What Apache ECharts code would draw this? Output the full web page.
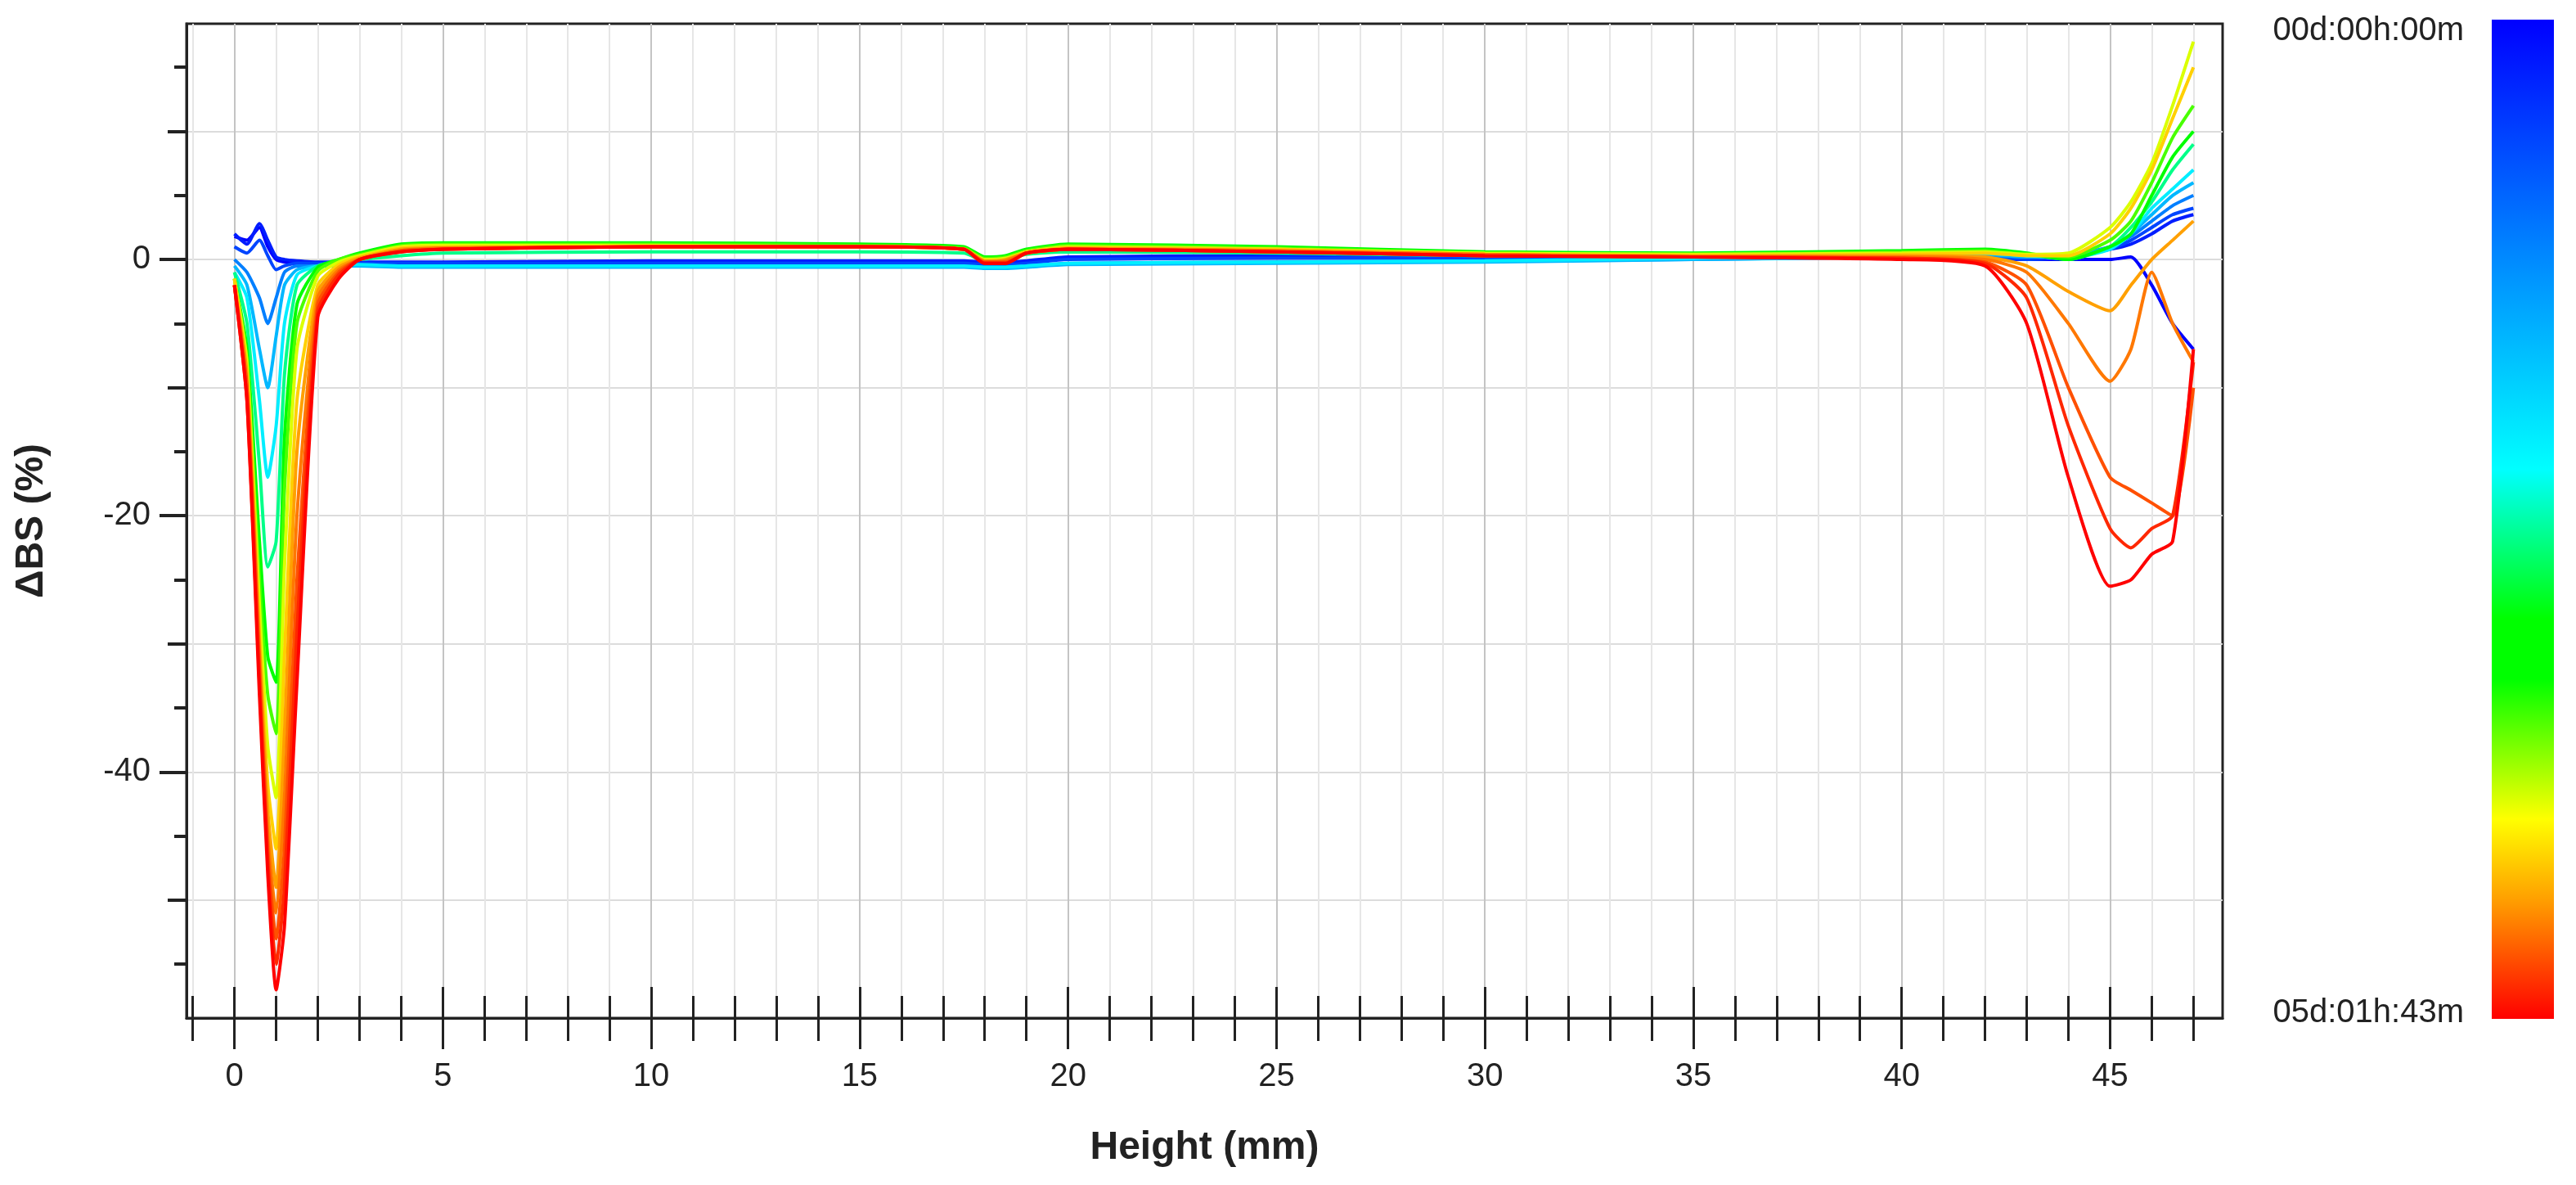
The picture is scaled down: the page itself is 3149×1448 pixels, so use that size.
<!DOCTYPE html>
<html>
<head>
<meta charset="utf-8">
<style>
  html, body { margin: 0; padding: 0; background: #fff; }
  #chart { width: 3149px; height: 1448px; }
</style>
<script src="https://cdn.jsdelivr.net/npm/echarts@6/dist/echarts.min.js"></script>
</head>
<body>
<div id="chart"></div>
<script>
// 高度 (mm)
var heights = [0, 0.3, 0.6, 0.8, 1.0, 1.2, 1.5, 2.0, 2.5, 3, 4, 5, 10, 15, 17.5, 18, 18.5, 19, 20, 25, 30, 35, 40, 42, 43, 44, 45, 45.5, 46, 46.5, 47];
// ΔBS 曲线，按时间先后排列
var profiles = [
  [1.8, 1.5, 2.5, 1.0, 0, -0.2, -0.3, -0.3, -0.3, -0.3, -0.3, -0.3, -0.2, -0.2, -0.2, -0.3, -0.3, -0.2, 0.1, 0.2, 0.1, 0.1, 0.2, 0.1, 0, 0, 0, 0.2, -2, -5, -7],
  [2.0, 1.2, 2.8, 1.5, 0.2, 0, -0.1, -0.2, -0.2, -0.2, -0.2, -0.2, -0.1, -0.1, -0.1, -0.2, -0.2, -0.1, 0.2, 0.3, 0.2, 0.2, 0.3, 0.3, 0.1, 0.3, 0.8, 1.2, 2, 3, 3.5],
  [1.0, 0.5, 1.5, 0.3, -0.8, -0.5, -0.3, -0.3, -0.3, -0.3, -0.3, -0.3, -0.3, -0.3, -0.3, -0.4, -0.4, -0.3, 0, 0.1, 0.1, 0.1, 0.2, 0.2, 0, 0.2, 0.8, 1.5, 2.5, 3.5, 4],
  [0, -1, -3, -5, -3, -1, -0.5, -0.5, -0.5, -0.5, -0.5, -0.5, -0.5, -0.5, -0.5, -0.6, -0.6, -0.5, -0.3, -0.2, -0.1, 0, 0.2, 0.3, 0.2, 0.3, 1, 1.8, 3, 4.2, 5],
  [-0.5, -2, -7, -10, -6, -2, -0.8, -0.5, -0.5, -0.5, -0.6, -0.6, -0.6, -0.6, -0.6, -0.7, -0.7, -0.6, -0.4, -0.3, -0.2, 0, 0.2, 0.4, 0.2, 0.2, 1, 2, 3.5, 5, 6],
  [-1, -3, -11, -17, -13, -5, -1.2, -0.5, -0.4, -0.4, -0.5, -0.5, -0.5, -0.5, -0.5, -0.6, -0.6, -0.5, -0.3, -0.2, -0.1, 0.1, 0.3, 0.5, 0.3, 0.1, 0.8, 2, 4, 5.5, 7],
  [-1, -5, -16, -24, -22, -9, -2, -0.5, -0.2, 0, 0.3, 0.5, 0.6, 0.6, 0.5, -0.1, 0, 0.4, 0.6, 0.5, 0.3, 0.3, 0.5, 0.7, 0.4, 0, 1, 2.5, 4.5, 7, 9],
  [-1.5, -7, -22, -31, -33, -14, -3.5, -0.6, 0, 0.5, 1.2, 1.3, 1.3, 1.2, 1.0, 0.2, 0.3, 0.8, 1.2, 1, 0.6, 0.5, 0.7, 0.8, 0.5, 0, 1, 2, 5, 8, 10],
  [-1.5, -8, -25, -34, -37, -18, -5, -0.9, 0, 0.4, 1.1, 1.2, 1.2, 1.1, 0.9, 0.1, 0.2, 0.7, 1.1, 0.9, 0.5, 0.4, 0.6, 0.7, 0.4, 0.2, 1.5, 3, 6, 9.5, 12],
  [-1.5, -8, -27, -38, -42, -24, -7, -1.3, -0.2, 0.3, 1, 1.1, 1.1, 1, 0.8, 0, 0.1, 0.6, 1, 0.8, 0.5, 0.4, 0.5, 0.6, 0.4, 0.5, 2.5, 4.5, 7.5, 12, 17],
  [-1.5, -9, -29, -41, -46, -31, -11, -2, -0.4, 0.2, 0.9, 1, 1, 1, 0.8, -0.1, 0, 0.6, 0.9, 0.8, 0.4, 0.3, 0.4, 0.5, 0.3, 0.3, 2, 4, 7, 11, 15],
  [-2, -9, -30, -43, -49, -37, -15, -2.5, -0.6, 0.1, 0.8, 0.9, 1, 1, 0.8, -0.1, 0, 0.5, 0.9, 0.7, 0.4, 0.3, 0.3, 0.2, -0.5, -2.5, -4, -2, 0, 1.5, 3],
  [-2, -10, -31, -45, -51, -42, -20, -3, -0.8, 0, 0.7, 0.9, 1, 1, 0.8, -0.2, -0.1, 0.5, 0.8, 0.7, 0.4, 0.2, 0.2, 0, -1, -5, -9.5, -7, -1, -5, -8],
  [-2, -10, -32, -46, -53, -46, -25, -3.5, -1, 0, 0.7, 0.8, 1, 1, 0.8, -0.2, -0.2, 0.5, 0.8, 0.6, 0.3, 0.2, 0.1, -0.2, -2, -10, -17, -18, -19, -20, -10],
  [-2, -11, -33, -47, -55, -49, -29, -4, -1.2, 0, 0.6, 0.8, 1, 1, 0.8, -0.3, -0.3, 0.5, 0.8, 0.6, 0.3, 0.2, 0.1, -0.3, -3, -13, -21, -22.5, -21, -20, -8],
  [-2, -11, -34, -48, -57, -52, -33, -4.5, -1.5, 0, 0.6, 0.8, 1, 1, 0.8, -0.3, -0.3, 0.5, 0.8, 0.6, 0.3, 0.2, 0, -0.5, -5, -17, -25.5, -25, -23, -22, -7]
];
var xLabelTicks = [0, 5, 10, 15, 20, 25, 30, 35, 40, 45];
var xMinorTicks = [-1, 0, 1, 2, 3, 4, 5, 6, 7, 8, 9, 10, 11, 12, 13, 14, 15, 16, 17, 18, 19, 20, 21, 22, 23, 24, 25, 26, 27, 28, 29, 30, 31, 32, 33, 34, 35, 36, 37, 38, 39, 40, 41, 42, 43, 44, 45, 46, 47];
var yLabelTicks = [0, -20, -40];
var yTenTicks = [10, 0, -10, -20, -30, -40, -50];
var yFiveTicks = [15, 10, 5, 0, -5, -10, -15, -20, -25, -30, -35, -40, -45, -50, -55];
var timeLabels = ['00d:00h:00m', '05d:01h:43m'];

// 色标（上蓝下红）
var stops = [[0, '#0000ff'], [0.25, '#0090ff'], [0.45, '#00ffff'], [0.6, '#00ff00'], [0.66, '#00ff00'], [0.8, '#ffff00'], [0.88, '#ffa000'], [1, '#ff0000']];
var tPos = [0, 0.05, 0.12, 0.22, 0.32, 0.42, 0.52, 0.62, 0.7, 0.78, 0.84, 0.88, 0.91, 0.94, 0.97, 1];
function hex(c) { return [parseInt(c.substr(1, 2), 16), parseInt(c.substr(3, 2), 16), parseInt(c.substr(5, 2), 16)]; }
function colorAt(t) {
  for (var i = 1; i < stops.length; i++) {
    if (t <= stops[i][0]) {
      var a = hex(stops[i - 1][1]), b = hex(stops[i][1]);
      var f = (t - stops[i - 1][0]) / (stops[i][0] - stops[i - 1][0] || 1);
      return 'rgb(' + [0, 1, 2].map(function (k) { return Math.round(a[k] + (b[k] - a[k]) * f); }).join(',') + ')';
    }
  }
  return stops[stops.length - 1][1];
}

var myChart = echarts.init(document.getElementById('chart'));
var font = 'Liberation Sans, Arial, sans-serif';
var xMin = -1.15, xMax = 47.7;

function xAx(opt) {
  return Object.assign({
    type: 'value', min: xMin, max: xMax, position: 'bottom',
    axisLine: { show: false, onZero: false }, axisLabel: { show: false },
    splitLine: { show: false }, axisTick: { show: false }
  }, opt);
}
function yAx(opt) {
  return Object.assign({
    type: 'value', min: -59.2, max: 18.4, position: 'left',
    axisLine: { show: false, onZero: false }, axisLabel: { show: false },
    splitLine: { show: false }, axisTick: { show: false }
  }, opt);
}

var series = profiles.map(function (p, i) {
  return {
    type: 'line',
    data: heights.map(function (h, j) { return [h, p[j]]; }),
    smooth: 0.2,
    showSymbol: false,
    lineStyle: { width: 4, color: colorAt(tPos[i]) },
    z: 5
  };
});

var tickStyle = { color: '#222', width: 3 };
var option = {
  animation: false,
  grid: { left: 228, right: 432, top: 29, bottom: 204, show: true, borderColor: '#222', borderWidth: 3, backgroundColor: 'transparent' },
  xAxis: [
    // 细网格（每 1 mm）和外侧短刻度
    xAx({ axisTick: { show: true, customValues: xMinorTicks, length: 28, lineStyle: tickStyle },
      splitLine: { show: true, lineStyle: { color: '#e6e6e6', width: 2 } } }),
    // 主轴
    xAx({
      axisLine: { show: true, onZero: false, lineStyle: { color: '#222', width: 3 } },
      axisTick: { show: true, customValues: xLabelTicks, length: 38, lineStyle: tickStyle },
      axisLabel: { show: true, customValues: xLabelTicks, fontSize: 40, color: '#222', margin: 52, fontFamily: font },
      splitLine: { show: true, lineStyle: { color: '#c4c4c4', width: 2 } },
      name: 'Height (mm)', nameLocation: 'middle', nameGap: 135,
      nameTextStyle: { fontSize: 48, fontWeight: 'bold', color: '#222', fontFamily: font }
    }),
    // 内侧刻度
    xAx({ axisTick: { show: true, inside: true, customValues: xMinorTicks, length: 27, lineStyle: tickStyle } }),
    xAx({ axisTick: { show: true, inside: true, customValues: xLabelTicks, length: 38, lineStyle: tickStyle } })
  ],
  yAxis: [
    yAx({
      axisLine: { show: true, onZero: false, lineStyle: { color: '#222', width: 3 } },
      axisTick: { show: true, customValues: yLabelTicks, length: 33, lineStyle: { color: '#222', width: 4 } },
      axisLabel: { show: true, customValues: yLabelTicks, fontSize: 40, color: '#222', margin: 44, fontFamily: font },
      name: 'ΔBS (%)', nameLocation: 'middle', nameGap: 165,
      nameTextStyle: { fontSize: 48, fontWeight: 'bold', color: '#222', fontFamily: font }
    }),
    yAx({ axisTick: { show: true, customValues: yTenTicks, length: 23, lineStyle: { color: '#222', width: 4 } },
      splitLine: { show: true, lineStyle: { color: '#dcdcdc', width: 2 } } }),
    yAx({ axisTick: { show: true, customValues: yFiveTicks, length: 15, lineStyle: { color: '#222', width: 4 } } })
  ],
  series: series,
  graphic: [
    {
      type: 'rect', shape: { x: 3046, y: 24, width: 76, height: 1221 },
      style: { fill: new echarts.graphic.LinearGradient(0, 0, 0, 1, stops.map(function (s) { return { offset: s[0], color: s[1] }; })) }
    },
    { type: 'text', x: 3012, y: 38, style: { text: timeLabels[0], font: '40px ' + font, fill: '#222', align: 'right', verticalAlign: 'middle' } },
    { type: 'text', x: 3012, y: 1238, style: { text: timeLabels[1], font: '40px ' + font, fill: '#222', align: 'right', verticalAlign: 'middle' } }
  ]
};
myChart.setOption(option);
window.addEventListener('resize', function () {
  myChart.resize();
});
</script>
</body>
</html>
